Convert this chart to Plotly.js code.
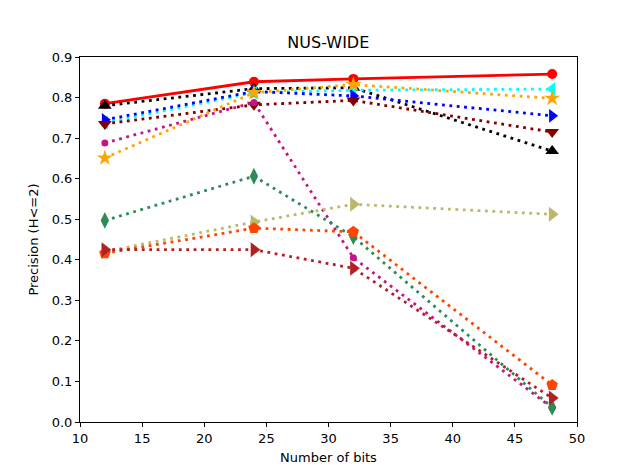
<!DOCTYPE html>
<html>
<head>
<meta charset="utf-8">
<script src="https://cdn.plot.ly/plotly-3.0.1.min.js"></script>
<style>
  html, body { margin: 0; padding: 0; background: #fff; }
  #chart { width: 640px; height: 473px; }
</style>
</head>
<body>
<div id="chart"></div>
<script>
const bits = [12, 24, 32, 48];

// precision per method
const redSolid    = [0.785, 0.839, 0.846, 0.858];
const blackTri    = [0.780, 0.822, 0.824, 0.668];
const cyanLeft    = [0.738, 0.812, 0.818, 0.821];
const blueRight   = [0.745, 0.815, 0.804, 0.755];
const maroonDown  = [0.735, 0.782, 0.793, 0.715];
const violetDot   = [0.688, 0.788, 0.405, 0.035];
const orangeStar  = [0.651, 0.812, 0.832, 0.798];
const greenDiam   = [0.497, 0.606, 0.457, 0.036];
const khakiRight  = [0.420, 0.493, 0.537, 0.512];
const redPent     = [0.416, 0.478, 0.469, 0.091];
const brickRight  = [0.425, 0.425, 0.379, 0.059];

const DOTTED = '2.8px,4.6px'; // matplotlib ':' at lw 2

function series(y, color, symbol, size, dash) {
    return {
        x: bits,
        y: y,
        mode: 'lines+markers',
        line: { color: color, dash: dash, width: 2.8 },
        marker: { color: color, symbol: symbol, size: size },
        showlegend: false,
    };
}

const data = [
    series(redSolid, '#ff0000', 'circle', 10, 'solid'),
    series(blackTri, '#000000', 'triangle-up', 12, DOTTED),
    series(cyanLeft, '#00ffff', 'triangle-left', 12, DOTTED),
    series(blueRight, '#0000ff', 'triangle-right', 12, DOTTED),
    series(maroonDown, '#800000', 'triangle-down', 12, DOTTED),
    series(violetDot, '#c71585', 'circle', 7, DOTTED),
    series(orangeStar, '#ffa500', 'star', 12, DOTTED),
    series(greenDiam, '#2e8b57', 'diamond-tall', 12, DOTTED),
    series(khakiRight, '#bdb76b', 'triangle-right', 13, DOTTED),
    series(redPent, '#ff4500', 'pentagon', 12, DOTTED),
    series(brickRight, '#b22222', 'triangle-right', 13, DOTTED),
];

const axisCommon = {
    showgrid: false,
    zeroline: false,
    showline: true,
    linecolor: '#000',
    linewidth: 1,
    mirror: true,
    ticks: 'outside',
    ticklen: 4,
    tickcolor: '#000',
    tickfont: { size: 13, color: '#000' },
};

const layout = {
    width: 640,
    height: 473,
    margin: { t: 57, l: 80, r: 63, b: 51 },
    paper_bgcolor: '#fff',
    plot_bgcolor: '#fff',
    font: { family: 'DejaVu Sans, sans-serif', color: '#000' },
    title: { text: 'NUS-WIDE', font: { size: 16 }, x: 0.513, xanchor: 'center', y: 0.91, yanchor: 'middle' },
    xaxis: Object.assign({}, axisCommon, {
        range: [10, 50],
        tickvals: [10, 15, 20, 25, 30, 35, 40, 45, 50],
        title: { text: 'Number of bits', font: { size: 13 }, standoff: 8 },
    }),
    yaxis: Object.assign({}, axisCommon, {
        range: [0, 0.9],
        tickvals: [0, 0.1, 0.2, 0.3, 0.4, 0.5, 0.6, 0.7, 0.8, 0.9],
        ticktext: ['0.0', '0.1', '0.2', '0.3', '0.4', '0.5', '0.6', '0.7', '0.8', '0.9'],
        title: { text: 'Precision (H<=2)', font: { size: 13 }, standoff: 10 },
    }),
};

Plotly.newPlot('chart', data, layout, { staticPlot: true });
</script>
</body>
</html>
